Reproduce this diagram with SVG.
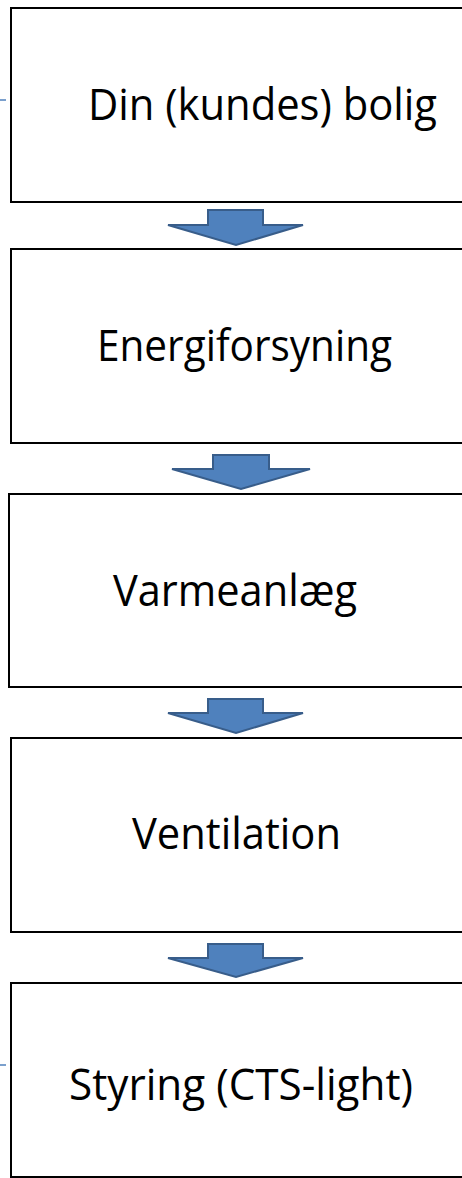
<svg xmlns="http://www.w3.org/2000/svg" width="462" height="1178" viewBox="0 0 462 1178">
<style>
.box{fill:#fff;stroke:#000;stroke-width:2}
.lbl{font-family:"Open Sans","Noto Sans","Liberation Sans",sans-serif;font-size:43px;fill:#000}
.arr{fill:#4F81BD;stroke:#385D8A;stroke-width:2;stroke-linejoin:miter}
.tick{stroke:#4F81BD;stroke-width:1.5}
</style>
<rect width="462" height="1178" fill="#fff"/>
<g id="ticks">
<line class="tick" x1="0" y1="100" x2="6" y2="100"/>
<line class="tick" x1="0" y1="1065" x2="6" y2="1065"/>
</g>
<g id="node1">
<rect class="box" x="11" y="8" width="470" height="194"/>
<text class="lbl" x="88" y="120" textLength="349" lengthAdjust="spacingAndGlyphs">Din (kundes) bolig</text>
</g>
<g id="node2">
<rect class="box" x="11" y="249" width="470" height="194"/>
<text class="lbl" x="97" y="361" textLength="295" lengthAdjust="spacingAndGlyphs">Energiforsyning</text>
</g>
<g id="node3">
<rect class="box" x="9" y="494" width="470" height="193"/>
<text class="lbl" x="113" y="606" textLength="244" lengthAdjust="spacingAndGlyphs">Varmeanlæg</text>
</g>
<g id="node4">
<rect class="box" x="11" y="738" width="470" height="194"/>
<text class="lbl" x="132" y="849" textLength="209" lengthAdjust="spacingAndGlyphs">Ventilation</text>
</g>
<g id="node5">
<rect class="box" x="11" y="983" width="470" height="194"/>
<text class="lbl" x="69" y="1100" textLength="344" lengthAdjust="spacingAndGlyphs">Styring (CTS-light)</text>
</g>
<g id="connectors">
<polygon class="arr" points="208,210 263,210 263,225 303,225 236,245 168,225 208,225"/>
<polygon class="arr" points="213,455 269,455 269,469 310,469 241,489 172,469 213,469"/>
<polygon class="arr" points="208,699 263,699 263,713 303,713 236,733 168,713 208,713"/>
<polygon class="arr" points="208,944 263,944 263,958 303,958 236,977 168,958 208,958"/>
</g>
</svg>
